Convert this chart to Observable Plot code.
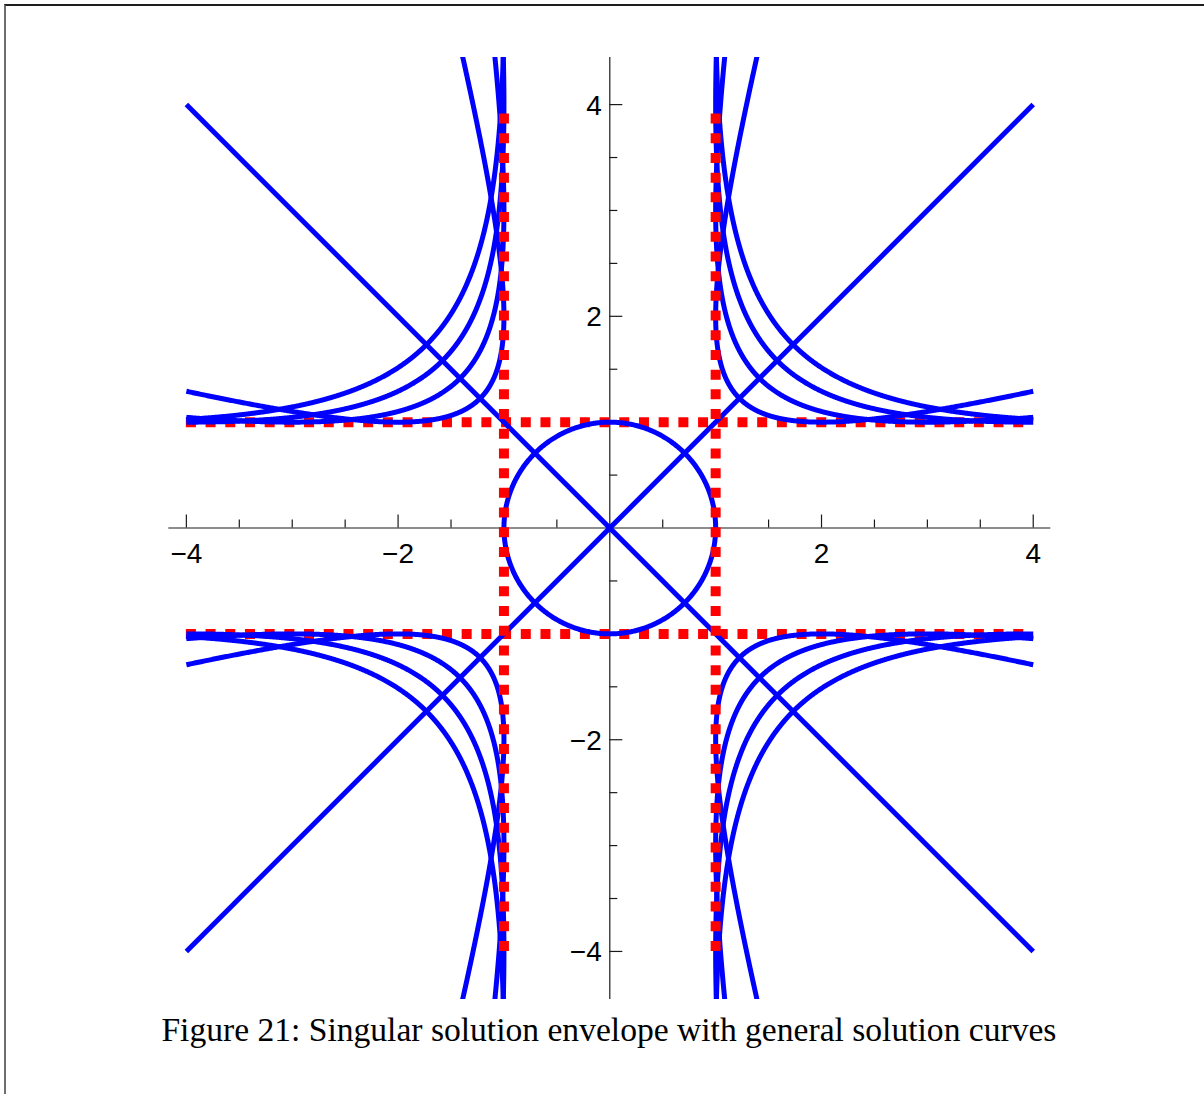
<!DOCTYPE html>
<html><head><meta charset="utf-8">
<script src="https://cdn.jsdelivr.net/npm/d3@7"></script>
<script src="https://cdn.jsdelivr.net/npm/@observablehq/plot@0.6"></script>
<style>
body{margin:0;background:#fff;}
#page{position:relative;width:1204px;height:1094px;overflow:hidden;background:#fff;}
#frame{position:absolute;left:4px;top:4px;width:1400px;height:1300px;border-top:2px solid #1e1e1e;border-left:2px solid #6e6e6e;}
#chart{position:absolute;left:0;top:0;}
#caption{position:absolute;left:7px;top:1014px;width:1204px;text-align:center;font-family:"Liberation Serif","Times New Roman",serif;font-size:33px;line-height:33px;white-space:nowrap;color:#000;}
#caption span{display:inline-block;transform-origin:center;}
</style></head><body>
<div id="page"><div id="frame"></div><div id="chart"></div><div id="caption"><span id="capText"></span></div></div>
<script>
// ---- data ----
const captionText = "Figure 21: Singular solution envelope with general solution curves";
// general solution family: x^2 + y^2 - 2 c x y = 1 - c^2 (parameters shown)
const familyC = [-5, -4, -3, -2, -1, 0, 1, 2, 3, 4, 5];
// singular solution envelope (x^2-1)(y^2-1)=0
const envelopeX = [-1, 1];
const envelopeY = [-1, 1];
const envelopeExtent = [-4, 4];
const curveXRange = [-4, 4];
const xMajorTicks = [-4, -2, 2, 4];
const xMajorLabels = ["\u22124", "\u22122", "2", "4"];
const xMinorTicks = [-3.5, -3, -2.5, -1.5, -1, -0.5, 0.5, 1, 1.5, 2.5, 3, 3.5];
const yMajorTicks = [-4, -2, 2, 4];
const yMajorLabels = ["\u22124", "\u22122", "2", "4"];
const yMinorTicks = [-3.5, -3, -2.5, -1.5, -1, -0.5, 0.5, 1, 1.5, 2.5, 3, 3.5];
const xDomain = [-4.166, 4.166];
const yDomain = [-4.454, 4.445];

// ---- build curves of the family ----
function solveX(a, b, target) {
  let lo = 0, hi = 12;
  const X = t => (a * Math.cosh(t) + b * Math.sinh(t)) / Math.SQRT2;
  for (let k = 0; k < 80; k++) { const m = (lo + hi) / 2; if (X(m) < target) lo = m; else hi = m; }
  return (lo + hi) / 2;
}
const curves = [];
familyC.forEach((c, ci) => {
  if (c === 0) {
    for (let i = 0; i <= 720; i++) {
      const th = 2 * Math.PI * i / 720;
      curves.push({id: "c" + ci, x: Math.cos(th), y: Math.sin(th)});
    }
  } else if (Math.abs(c) === 1) {
    curveXRange.forEach(x => curves.push({id: "c" + ci, x, y: c * x}));
  } else {
    const k = Math.abs(c), a = Math.sqrt(k + 1), b = Math.sqrt(k - 1);
    const tR = solveX(a, b, curveXRange[1]);
    const tT = -solveX(a, b, yDomain[1] + 0.3);
    const N = 900;
    [1, -1].forEach(s => {
      for (let i = 0; i <= N; i++) {
        const t = tT + (tR - tT) * i / N;
        const x = (a * Math.cosh(t) + b * Math.sinh(t)) / Math.SQRT2;
        const y = (a * Math.cosh(t) - b * Math.sinh(t)) / Math.SQRT2;
        curves.push({id: "c" + ci + "_" + s, x: s * x, y: s * y * Math.sign(c)});
      }
    });
  }
});

const pxPerUnit = (999 - 57) / (yDomain[1] - yDomain[0]);
const majorLen = 13 / pxPerUnit, minorLen = 8 / pxPerUnit;
const axisColor = "#1a1a1a";
const labelFont = "'Liberation Sans', Arial, Helvetica, sans-serif";

const chart = Plot.plot({
  width: 1204,
  height: 1006,
  marginLeft: 168.3,
  marginRight: 153.7,
  marginTop: 57,
  marginBottom: 7,
  x: {domain: xDomain, axis: null},
  y: {domain: yDomain, axis: null},
  style: {background: "transparent", overflow: "visible"},
  marks: [
    Plot.ruleY([0], {stroke: axisColor, strokeWidth: 1.2}),
    Plot.ruleX([0], {stroke: axisColor, strokeWidth: 1.2}),
    Plot.ruleX(xMajorTicks, {x: d => d, y1: 0, y2: majorLen, stroke: axisColor, strokeWidth: 1.2}),
    Plot.ruleX(xMinorTicks, {x: d => d, y1: 0, y2: minorLen, stroke: axisColor, strokeWidth: 1.2}),
    Plot.ruleY(yMajorTicks, {y: d => d, x1: 0, x2: majorLen, stroke: axisColor, strokeWidth: 1.2}),
    Plot.ruleY(yMinorTicks, {y: d => d, x1: 0, x2: minorLen, stroke: axisColor, strokeWidth: 1.2}),
    Plot.text(xMajorTicks, {x: d => d, y: 0, text: (d, i) => xMajorLabels[i], dy: 26.5, fontSize: 28, fontFamily: labelFont, fill: "#000"}),
    Plot.text(yMajorTicks, {x: 0, y: d => d, text: (d, i) => yMajorLabels[i], textAnchor: "end", dx: -8, dy: 1, fontSize: 28, fontFamily: labelFont, fill: "#000"}),
    Plot.ruleY(envelopeY, {y: d => d, x1: envelopeExtent[0], x2: envelopeExtent[1], stroke: "#ff0000", strokeWidth: 10, strokeDasharray: "10,9.7"}),
    Plot.line(curves, {x: "x", y: "y", z: "id", stroke: "#0000ff", strokeWidth: 5, curve: "linear", clip: true, strokeLinejoin: "round", strokeLinecap: "butt"}),
    Plot.ruleX(envelopeX, {x: d => d, y1: envelopeExtent[0], y2: envelopeExtent[1], stroke: "#ff0000", strokeWidth: 10, strokeDasharray: "10,9.7"})
  ]
});
document.getElementById("chart").appendChild(chart);

const cap = document.getElementById("capText");
cap.textContent = captionText;
const w = cap.getBoundingClientRect().width;
cap.style.transform = "scaleX(" + (895 / w) + ")";
</script>
</body></html>
